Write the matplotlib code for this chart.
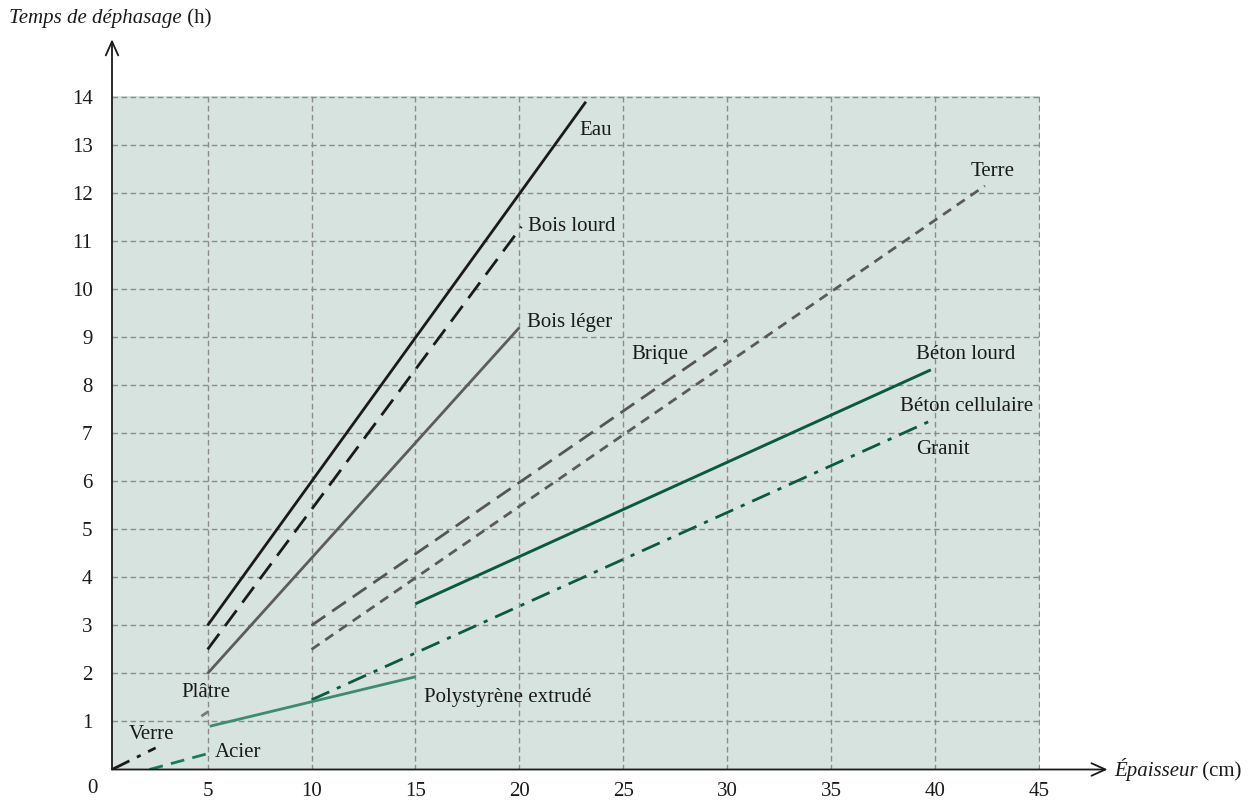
import numpy as np
import matplotlib.pyplot as plt

plt.rcParams['font.family'] = ['Liberation Serif', 'DejaVu Serif']

# materials : start/end points (cm, h)
materials = ["Eau", "Bois lourd", "Bois léger", "Brique", "Terre", "Béton lourd",
             "Béton cellulaire", "Polystyrène extrudé", "Plâtre", "Verre", "Acier"]
x_start = [5.0, 5.0, 5.0, 10.0, 10.0, 15.0, 10.0, 5.1, 4.7, 0.4, 2.2]
y_start = [3.0, 2.5, 2.0, 3.0, 2.5, 3.45, 1.45, 0.9, 1.11, 0.0, 0.0]
x_end = [23.2, 20.1, 20.0, 30.0, 42.4, 39.8, 40.0, 15.0, 5.15, 2.5, 5.0]
y_end = [13.9, 11.3, 9.2, 8.95, 12.15, 8.32, 7.3, 1.93, 1.24, 0.45, 0.33]

# label positions (left edge, centre)
labels = ["Eau", "Bois lourd", "Bois léger", "Brique", "Terre", "Béton lourd",
          "Béton cellulaire", "Granit", "Polystyrène extrudé", "Plâtre", "Verre", "Acier"]
lab_x = [22.9, 20.4, 20.35, 25.4, 41.7, 39.1, 38.3, 39.1, 15.4, 3.75, 1.2, 5.35]
lab_y = [13.3, 11.3, 9.3, 8.64, 12.45, 8.64, 7.56, 6.66, 1.5, 1.6, 0.72, 0.36]

x_ticks = [5, 10, 15, 20, 25, 30, 35, 40, 45]
y_ticks = list(range(1, 15))

dgreen = '#0b5a3e'
styles = {
    "Eau": dict(color='#1a1a1a', lw=2.0, ls='-'),
    "Bois lourd": dict(color='#1a1a1a', lw=2.0, ls=(0, (7, 3.5))),
    "Bois léger": dict(color='#5c5c5c', lw=2.0, ls='-'),
    "Brique": dict(color='#555555', lw=2.0, ls=(0, (6, 3))),
    "Terre": dict(color='#5a5a5a', lw=2.0, ls=(0, (3.5, 2.5))),
    "Béton lourd": dict(color=dgreen, lw=2.1, ls='-'),
    "Béton cellulaire": dict(color=dgreen, lw=2.0, ls=(0, (7, 3, 1.5, 3))),
    "Polystyrène extrudé": dict(color='#3d8a75', lw=2.0, ls='-'),
    "Plâtre": dict(color='#7a7a7a', lw=2.0, ls=(0, (3, 2))),
    "Verre": dict(color='#1a1a1a', lw=2.0, ls=(0, (7, 3, 1.5, 3))),
    "Acier": dict(color='#1a7a5e', lw=2.0, ls=(0, (5, 3))),
}

fig = plt.figure(figsize=(12.56, 8.01), dpi=100)
ax = fig.add_axes([112 / 1256, 31.5 / 801, 928 / 1256, 673.5 / 801])
ax.set_facecolor('#d6e3de')
ax.set_xlim(0.4, 45.05)
ax.set_ylim(0, 14.02)

ax.set_xticks(x_ticks)
ax.set_yticks(y_ticks)
ax.tick_params(length=0, labelsize=15, colors='#1a1a1a')
ax.tick_params(axis='x', pad=9)
ax.tick_params(axis='y', pad=14)
ax.grid(True, color='#8c8c8c', lw=1.0, ls=(0, (4, 2.5)))
ax.set_axisbelow(True)
for s in ['top', 'right', 'left', 'bottom']:
    ax.spines[s].set_visible(False)

# axes with open arrow heads
ax.annotate('', xy=(48.3, 0), xytext=(0.4, 0), annotation_clip=False,
            arrowprops=dict(arrowstyle='->,head_length=1.0,head_width=0.45', lw=1.3, color='#1a1a1a',
                            shrinkA=0, shrinkB=0))
ax.annotate('', xy=(0.4, 15.2), xytext=(0.4, 0), annotation_clip=False,
            arrowprops=dict(arrowstyle='->,head_length=1.0,head_width=0.45', lw=1.3, color='#1a1a1a',
                            shrinkA=0, shrinkB=0))

for i, m in enumerate(materials):
    ax.plot([x_start[i], x_end[i]], [y_start[i], y_end[i]], solid_capstyle='butt',
            dash_capstyle='butt', **styles[m])

for i, t in enumerate(labels):
    ax.text(lab_x[i], lab_y[i], t, fontsize=15, ha='left', va='center', color='#1a1a1a')

ax.text(-0.53, -0.2, "0", fontsize=15, ha='center', va='top', color='#1a1a1a', clip_on=False)

# axis titles
t1 = fig.text(9 / 1256, 1 - 23 / 801, "Temps de déphasage", fontsize=15, style='italic',
              ha='left', va='baseline', color='#1a1a1a')
ax.annotate(" (h)", xy=(1, 0), xycoords=t1, fontsize=15, color='#1a1a1a', ha='left', va='bottom')

t2 = ax.text(48.6, 0, "Épaisseur", fontsize=15, style='italic', ha='left', va='center',
             color='#1a1a1a', clip_on=False)
ax.annotate(" (cm)", xy=(1, 0), xycoords=t2, fontsize=15, color='#1a1a1a', ha='left', va='bottom')

fig.savefig('out.png', dpi=100)
